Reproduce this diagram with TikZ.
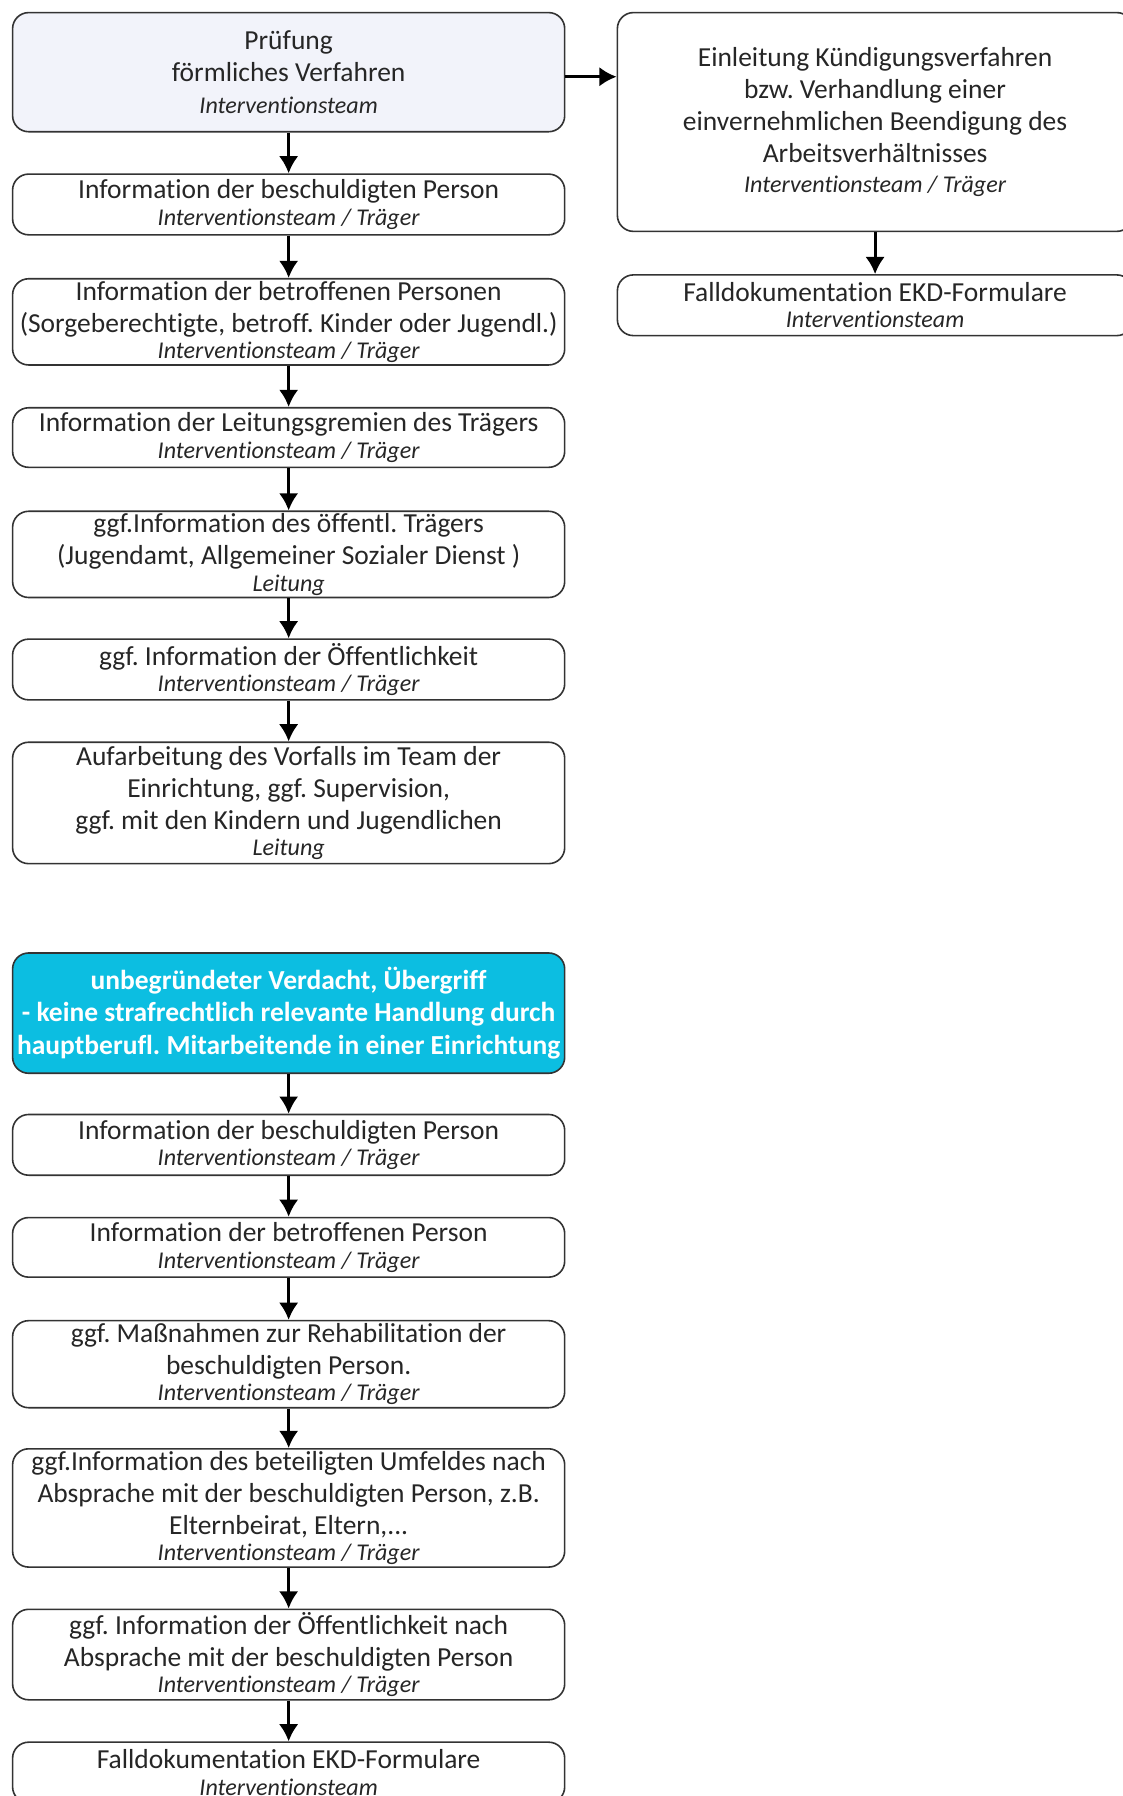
\documentclass[tikz,border=0pt]{standalone}
\usepackage{fontspec}
\setmainfont{Carlito}[Ligatures=NoCommon]
\usepackage{tikz}
\usetikzlibrary{arrows.meta}
\tikzset{>={Latex[length=7.5pt,width=8.5pt]}}
\definecolor{mygray1}{RGB}{242, 243, 250}
\definecolor{mycyan}{RGB}{12, 190, 225}
\newcommand{\wer}[2][-2.5pt]{\\[#1]{\fontsize{10.5}{12}\selectfont\itshape #2}}
\frenchspacing

\begin{document}
\begin{tikzpicture}[x=0.5pt, y=-0.5pt]
\tikzset{
  stepbox/.style={draw=black!80, line width=0.7pt, rounded corners=7pt, align=center,
    inner sep=1pt, minimum width=241pt, text=black!85, font=\fontsize{12}{14}\selectfont},
  rightbox/.style={stepbox, minimum width=225pt},
  flow/.style={->, line width=1.3pt},
}
\useasboundingbox (0,0) rectangle (980,1568);
\begin{scope}
\node[stepbox, fill=mygray1, minimum height=52pt] (pruef) at (252,63) {Prüfung\\förmliches Verfahren\wer[0pt]{Interventionsteam}};
\node[stepbox, minimum height=26.5pt] (infobesch) at (252,178.5) {Information der beschuldigten Person\wer{Interventionsteam / Träger}};
\node[stepbox, minimum height=37pt] (infobetr) at (252,281) {Information der betroffenen Personen\\(Sorgeberechtigte, betroff. Kinder oder Jugendl.)\wer{Interventionsteam / Träger}};
\node[stepbox, minimum height=26pt] (infoleit) at (252,382) {Information der Leitungsgremien des Trägers\wer{Interventionsteam / Träger}};
\node[stepbox, minimum height=37pt] (infooeff) at (252,484) {ggf.Information des öffentl. Trägers\\(Jugendamt, Allgemeiner Sozialer Dienst )\wer{Leitung}};
\node[stepbox, minimum height=26.5pt] (oeffent) at (252,584.5) {ggf. Information der Öffentlichkeit\wer{Interventionsteam / Träger}};
\node[stepbox, minimum height=53pt] (aufarb) at (252,701) {Aufarbeitung des Vorfalls im Team der\\Einrichtung, ggf. Supervision,\\ggf. mit den Kindern und Jugendlichen\wer{Leitung}};
\draw[flow] (pruef) -- (infobesch);
\draw[flow] (infobesch) -- (infobetr);
\draw[flow] (infobetr) -- (infoleit);
\draw[flow] (infoleit) -- (infooeff);
\draw[flow] (infooeff) -- (oeffent);
\draw[flow] (oeffent) -- (aufarb);
\end{scope}
% rechte Spalte
\begin{scope}
\node[rightbox, minimum height=95.5pt] (kuend) at (764,106.5) {Einleitung Kündigungsverfahren\\bzw. Verhandlung einer\\einvernehmlichen Beendigung des\\Arbeitsverhältnisses\wer[-1pt]{Interventionsteam / Träger}};
\node[rightbox, minimum height=26.5pt] (doku1) at (764,266.5) {Falldokumentation EKD-Formulare\wer{Interventionsteam}};
\draw[flow] ([yshift=-2pt]pruef.east) -- ([yshift=-2pt]pruef.east -| kuend.west);
\draw[flow] (kuend) -- (doku1);
\end{scope}
% unbegruendeter Verdacht
\begin{scope}
\node[stepbox, fill=mycyan, text=white, font=\fontsize{12}{14}\selectfont\bfseries, minimum height=52.5pt] (verdacht) at (252,884.5) {unbegründeter Verdacht, Übergriff\\- keine strafrechtlich relevante Handlung durch\\hauptberufl. Mitarbeitende in einer Einrichtung};
\node[stepbox, minimum height=26.5pt] (infobesch2) at (252,999.5) {Information der beschuldigten Person\wer{Interventionsteam / Träger}};
\node[stepbox, minimum height=26pt] (infobetr2) at (252,1089) {Information der betroffenen Person\wer{Interventionsteam / Träger}};
\node[stepbox, minimum height=38pt] (rehab) at (252,1191) {ggf. Maßnahmen zur Rehabilitation der\\beschuldigten Person.\wer{Interventionsteam / Träger}};
\node[stepbox, minimum height=51.5pt] (umfeld) at (252,1316.5) {ggf.Information des beteiligten Umfeldes nach\\Absprache mit der beschuldigten Person, z.B.\\Elternbeirat, Eltern,...\wer{Interventionsteam / Träger}};
\node[stepbox, minimum height=39.5pt] (oeffent2) at (252,1444.5) {ggf. Information der Öffentlichkeit nach\\Absprache mit der beschuldigten Person\wer{Interventionsteam / Träger}};
\node[stepbox, minimum height=26.5pt] (doku2) at (252,1547.5) {Falldokumentation EKD-Formulare\wer{Interventionsteam}};
\draw[flow] (verdacht) -- (infobesch2);
\draw[flow] (infobesch2) -- (infobetr2);
\draw[flow] (infobetr2) -- (rehab);
\draw[flow] (rehab) -- (umfeld);
\draw[flow] (umfeld) -- (oeffent2);
\draw[flow] (oeffent2) -- (doku2);
\end{scope}
\end{tikzpicture}
\end{document}
